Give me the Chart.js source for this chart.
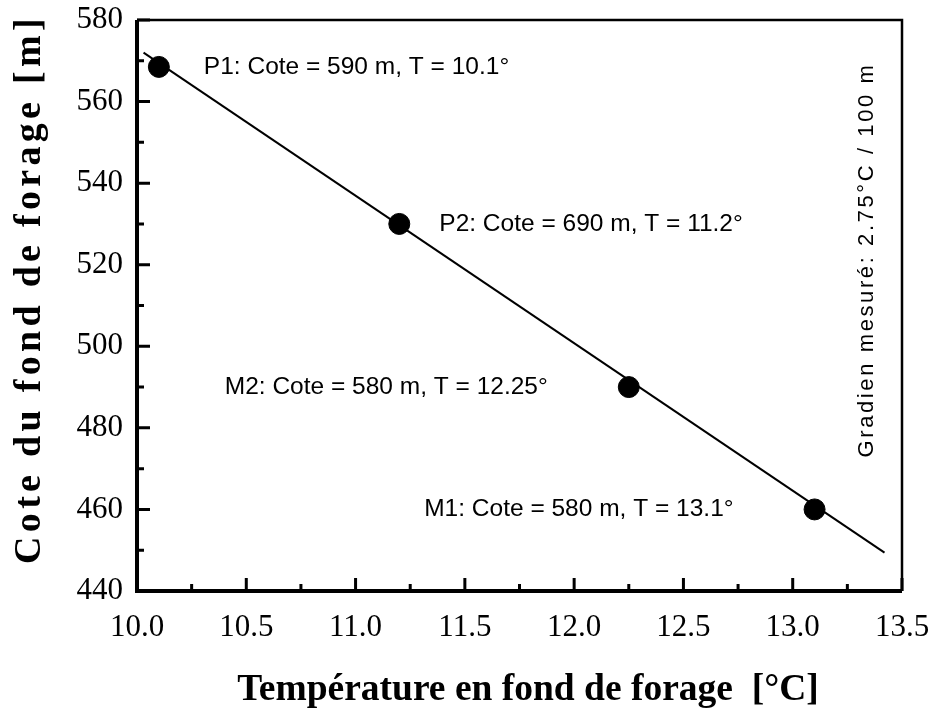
<!DOCTYPE html>
<html lang="fr">
<head>
<meta charset="utf-8">
<title>Gradient géothermique</title>
<script src="https://cdn.jsdelivr.net/npm/chart.js@4.4.1/dist/chart.umd.min.js"></script>
<style>
  html, body { margin: 0; padding: 0; background: #fff; }
  canvas { display: block; }
</style>
</head>
<body>
<canvas id="chart" width="934" height="709"></canvas>
<script>
// ============================================================
// Température vs cote du fond de forage
// ============================================================

// --- Data ---
const pointTemps = [10.1, 11.2, 12.25, 13.1];
const pointCotes = [568.5, 530, 490, 460];
const pointLabels = [
  'P1: Cote = 590 m, T = 10.1°',
  'P2: Cote = 690 m, T = 11.2°',
  'M2: Cote = 580 m, T = 12.25°',
  'M1: Cote = 580 m, T = 13.1°'
];
const fitTemps = [10.03, 13.42];
const fitCotes = [572, 449.4];

const xMinorTicks = [10.25, 10.75, 11.25, 11.75, 12.25, 12.75, 13.25];
const yMinorTicks = [450, 470, 490, 510, 530, 550, 570];
const gradientText = 'Gradien mesuré: 2.75°C / 100 m';
const xTitle = 'Température en fond de forage  [°C]';
const yTitle = 'Cote du fond de forage [m]';

// --- Layout (labels placed left or right of their point) ---
const labelSide = ['right', 'right', 'left', 'left'];
const labelGap = [45, 40, 81, 81];

const SERIF = "'Liberation Serif', 'Times New Roman', serif";
const SANS = "'Liberation Sans', Arial, sans-serif";

// --- Frame, inward ticks and texts ---
const decorPlugin = {
  id: 'decor',
  afterDraw(chart) {
    const { ctx, chartArea: a, scales: { x, y } } = chart;
    ctx.save();
    ctx.strokeStyle = '#000';
    ctx.lineCap = 'butt';

    // frame
    ctx.lineWidth = 2.5;
    ctx.beginPath();
    ctx.moveTo(a.left, a.top); ctx.lineTo(a.right, a.top); ctx.lineTo(a.right, a.bottom);
    ctx.stroke();
    ctx.lineWidth = 4;
    ctx.beginPath();
    ctx.moveTo(a.left, a.top); ctx.lineTo(a.left, a.bottom); ctx.lineTo(a.right, a.bottom);
    ctx.stroke();

    // ticks
    ctx.lineWidth = 3;
    ctx.beginPath();
    x.ticks.forEach(t => {
      const px = x.getPixelForValue(t.value);
      ctx.moveTo(px, a.bottom); ctx.lineTo(px, a.bottom - 13);
    });
    xMinorTicks.forEach(v => {
      const px = x.getPixelForValue(v);
      ctx.moveTo(px, a.bottom); ctx.lineTo(px, a.bottom - 7);
    });
    y.ticks.forEach(t => {
      const py = y.getPixelForValue(t.value);
      ctx.moveTo(a.left, py); ctx.lineTo(a.left + 13, py);
    });
    yMinorTicks.forEach(v => {
      const py = y.getPixelForValue(v);
      ctx.moveTo(a.left, py); ctx.lineTo(a.left + 7, py);
    });
    ctx.stroke();

    // point labels
    ctx.fillStyle = '#000';
    ctx.font = `24.5px ${SANS}`;
    ctx.textBaseline = 'middle';
    pointLabels.forEach((txt, i) => {
      const px = x.getPixelForValue(pointTemps[i]);
      const py = y.getPixelForValue(pointCotes[i]);
      if (labelSide[i] === 'right') {
        ctx.textAlign = 'left';
        ctx.fillText(txt, px + labelGap[i], py);
      } else {
        ctx.textAlign = 'right';
        ctx.fillText(txt, px - labelGap[i], py);
      }
    });

    // gradient note (rotated, right side)
    ctx.save();
    ctx.translate(867, 260);
    ctx.rotate(-Math.PI / 2);
    ctx.textAlign = 'center';
    ctx.font = `22px ${SANS}`;
    ctx.letterSpacing = '2.6px';
    ctx.fillText(gradientText, 0, 0);
    ctx.restore();

    // axis titles
    ctx.font = `bold 37.5px ${SERIF}`;
    ctx.textAlign = 'center';
    ctx.fillText(xTitle, 528, 690);

    ctx.save();
    ctx.translate(30, 289);
    ctx.rotate(-Math.PI / 2);
    ctx.font = `bold 38px ${SERIF}`;
    ctx.letterSpacing = '4.3px';
    ctx.fillText(yTitle, 0, 0);
    ctx.restore();

    ctx.restore();
  }
};

const tickFont = { family: SERIF, size: 31 };

// drop label overflow so the plot box sits where layout.padding says
function noOverflow(s) {
  s.paddingTop = 0; s.paddingBottom = 0; s.paddingLeft = 0; s.paddingRight = 0;
}

new Chart(document.getElementById('chart'), {
  type: 'scatter',
  data: {
    datasets: [
      {
        type: 'line',
        data: fitTemps.map((t, i) => ({ x: t, y: fitCotes[i] })),
        borderColor: '#000',
        borderWidth: 2,
        pointRadius: 0,
        fill: false
      },
      {
        data: pointTemps.map((t, i) => ({ x: t, y: pointCotes[i] })),
        backgroundColor: '#000',
        borderColor: '#000',
        pointRadius: 10.5,
        pointHoverRadius: 10.5
      }
    ]
  },
  options: {
    responsive: false,
    animation: false,
    devicePixelRatio: 1,
    layout: { padding: { left: 0, right: 32, top: 20, bottom: 0 } },
    plugins: {
      legend: { display: false },
      tooltip: { enabled: false }
    },
    scales: {
      x: {
        type: 'linear',
        min: 10,
        max: 13.5,
        afterFit: (s) => { s.height = 118; noOverflow(s); },
        grid: { display: false, drawTicks: false },
        border: { display: false },
        ticks: {
          stepSize: 0.5,
          padding: 18,
          color: '#000',
          font: tickFont,
          maxRotation: 0,
          callback: (v) => v.toFixed(1)
        }
      },
      y: {
        type: 'linear',
        min: 440,
        max: 580,
        afterFit: (s) => { s.width = 137; noOverflow(s); },
        grid: { display: false, drawTicks: false },
        border: { display: false },
        ticks: {
          stepSize: 20,
          padding: 14,
          color: '#000',
          font: tickFont
        }
      }
    }
  },
  plugins: [decorPlugin]
});
</script>
</body>
</html>
